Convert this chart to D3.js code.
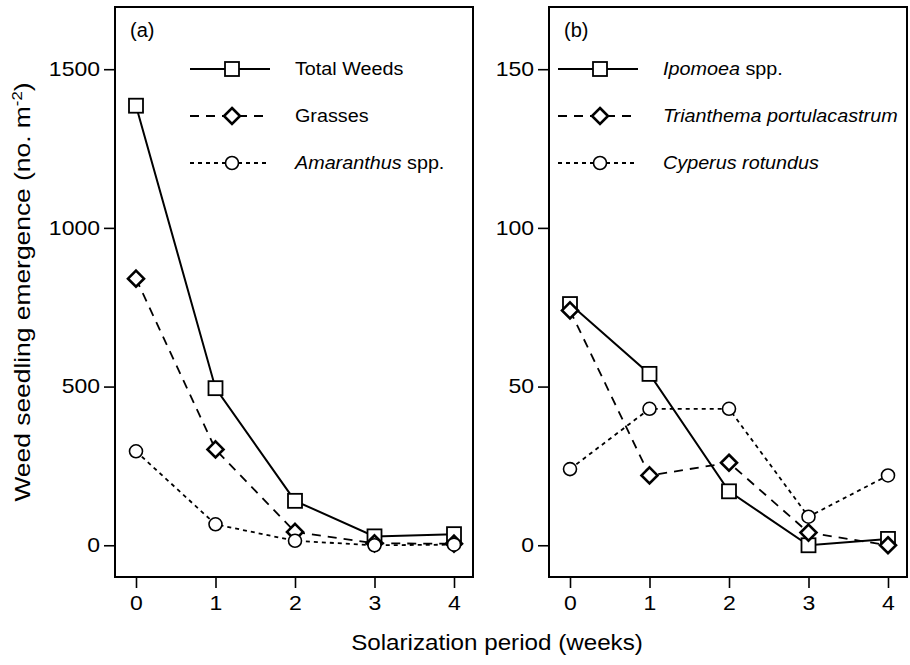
<!DOCTYPE html>
<html>
<head>
<meta charset="utf-8">
<script src="https://cdn.jsdelivr.net/npm/d3@7"></script>
<style>
  body { margin: 0; background: #fff; }
  svg text { font-family: "Liberation Sans", Arial, sans-serif; fill: #000; }
  .axis path, .axis line { stroke: #000; stroke-width: 1.6; }
</style>
</head>
<body>
<div id="chart"></div>
<script>
// weeks of solarization
var weeks = [0, 1, 2, 3, 4];

// panel (a), no. m-2
var totalWeeds = [1385, 495, 140, 28, 35];
var grasses = [840, 302, 42, 6, 5];
var amaranthus = [296, 66, 14, 0, 2];

// panel (b), no. m-2
var ipomoea = [76, 54, 17, 0, 2];
var trianthema = [74, 22, 26, 4, 0];
var cyperus = [24, 43, 43, 9, 22];

var yTicksA = [0, 500, 1000, 1500];
var yTicksB = [0, 50, 100, 150];

var width = 910, height = 665;

var svg = d3.select("#chart")
    .append("svg")
        .attr("width", width)
        .attr("height", height);

var styles = {
    solid: { dash: null, width: 2 },
    dashed: { dash: "9,7", width: 1.8 },
    dotted: { dash: "4,4", width: 1.8 }
};

// the original font is a bit wider than Liberation Sans, so stretch text sideways
function stretch(sel, k, ax) {
    sel.attr("transform", "translate(" + ax + ",0) scale(" + k + ",1) translate(" + (-ax) + ",0)");
}

function drawMarker(g, shape, cx, cy) {
    if (shape == "square") {
        g.append("rect")
            .attr("x", cx - 7).attr("y", cy - 7)
            .attr("width", 14).attr("height", 14)
            .attr("fill", "#fff").attr("stroke", "#000").attr("stroke-width", 1.8);
    } else if (shape == "diamond") {
        g.append("path")
            .attr("d", "M" + cx + "," + (cy - 8) + "L" + (cx + 8) + "," + cy + "L" + cx + "," + (cy + 8) + "L" + (cx - 8) + "," + cy + "Z")
            .attr("fill", "#fff").attr("stroke", "#000").attr("stroke-width", 2.6);
    } else {
        g.append("circle")
            .attr("cx", cx).attr("cy", cy).attr("r", 6.5)
            .attr("fill", "#fff").attr("stroke", "#000").attr("stroke-width", 1.6);
    }
}

function drawPanel(opts) {
    var x = d3.scaleLinear().domain([0, 4]).range([opts.left + 21, opts.right - 19]);
    var y = d3.scaleLinear().domain(opts.ydomain).range([577, 7]);

    var g = svg.append("g");

    // frame
    g.append("rect")
        .attr("x", opts.left).attr("y", 7)
        .attr("width", opts.right - opts.left).attr("height", 570)
        .attr("fill", "none").attr("stroke", "#000").attr("stroke-width", 2);

    var xaxis = g.append("g")
        .attr("class", "axis")
        .attr("transform", "translate(0,577)")
        .call(d3.axisBottom(x).tickValues(weeks).tickSize(11).tickPadding(8).tickFormat(d3.format("d")));
    xaxis.select(".domain").remove();
    xaxis.attr("font-size", 20).attr("font-family", "Liberation Sans, Arial, sans-serif");
    xaxis.selectAll(".tick text").each(function() { stretch(d3.select(this), 1.15, 0); });

    var yaxis = g.append("g")
        .attr("class", "axis")
        .attr("transform", "translate(" + opts.left + ",0)")
        .call(d3.axisLeft(y).tickValues(opts.yticks).tickSize(11).tickPadding(4).tickFormat(d3.format("d")));
    yaxis.select(".domain").remove();
    yaxis.attr("font-size", 20).attr("font-family", "Liberation Sans, Arial, sans-serif");
    yaxis.selectAll(".tick text").each(function() { stretch(d3.select(this), 1.15, -15); });

    // panel letter
    g.append("text")
        .attr("x", opts.left + 15).attr("y", 37)
        .attr("font-size", 20)
        .text(opts.letter);

    // lines and markers
    opts.series.forEach(function(s) {
        var line = d3.line()
            .x(function(d, i) { return x(weeks[i]); })
            .y(function(d) { return y(d); });
        g.append("path")
            .datum(s.values)
            .attr("d", line)
            .attr("fill", "none")
            .attr("stroke", "#000")
            .attr("stroke-width", styles[s.style].width)
            .attr("stroke-dasharray", styles[s.style].dash);
    });
    opts.series.forEach(function(s) {
        s.values.forEach(function(v, i) { drawMarker(g, s.marker, x(weeks[i]), y(v)); });
    });

    // legend
    opts.series.forEach(function(s, i) {
        var ly = 69 + i * 47;
        var lx0 = opts.legendX, lx1 = opts.legendX + 80;
        g.append("line")
            .attr("x1", lx0).attr("x2", lx1).attr("y1", ly).attr("y2", ly)
            .attr("stroke", "#000")
            .attr("stroke-width", styles[s.style].width)
            .attr("stroke-dasharray", styles[s.style].dash);
        drawMarker(g, s.marker, (lx0 + lx1) / 2 + 2, ly);
        var t = g.append("text")
            .attr("x", lx1 + 25).attr("y", ly + 6)
            .attr("font-size", 17.5);
        stretch(t, 1.13, lx1 + 25);
        s.label.forEach(function(part) {
            t.append("tspan")
                .attr("font-style", part.italic ? "italic" : null)
                .text(part.text);
        });
    });
}

drawPanel({
    left: 115, right: 473, ydomain: [-100, 1696], yticks: yTicksA, letter: "(a)", legendX: 190,
    series: [
        { values: totalWeeds, style: "solid", marker: "square", label: [{ text: "Total Weeds" }] },
        { values: grasses, style: "dashed", marker: "diamond", label: [{ text: "Grasses" }] },
        { values: amaranthus, style: "dotted", marker: "circle", label: [{ text: "Amaranthus", italic: true }, { text: " spp." }] }
    ]
});

drawPanel({
    left: 549, right: 907, ydomain: [-10, 169.6], yticks: yTicksB, letter: "(b)", legendX: 558,
    series: [
        { values: ipomoea, style: "solid", marker: "square", label: [{ text: "Ipomoea", italic: true }, { text: " spp." }] },
        { values: trianthema, style: "dashed", marker: "diamond", label: [{ text: "Trianthema portulacastrum", italic: true }] },
        { values: cyperus, style: "dotted", marker: "circle", label: [{ text: "Cyperus rotundus", italic: true }] }
    ]
});

// axis titles
var xlab = svg.append("text")
    .attr("x", 497).attr("y", 650)
    .attr("text-anchor", "middle")
    .attr("font-size", 22)
    .text("Solarization period (weeks)");
stretch(xlab, 1.1, 497);

var ylab = svg.append("text")
    .attr("transform", "translate(30,292) rotate(-90) scale(1.2,1)")
    .attr("text-anchor", "middle")
    .attr("font-size", 22);
ylab.append("tspan").text("Weed seedling emergence (no. m");
ylab.append("tspan").attr("dy", -8).attr("font-size", 14).text("-2");
ylab.append("tspan").attr("dy", 8).text(")");
</script>
</body>
</html>
